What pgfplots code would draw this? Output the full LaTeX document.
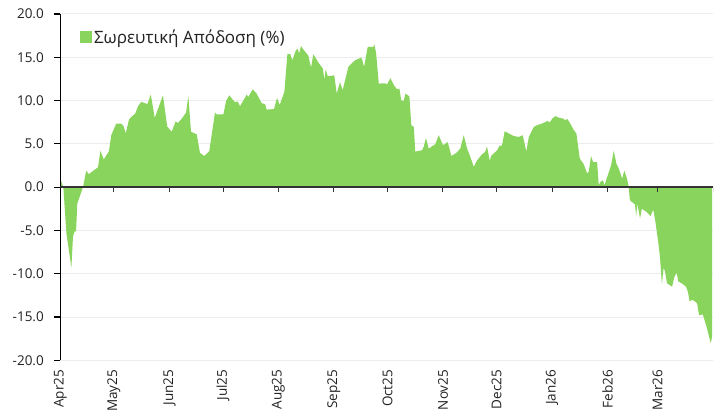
\documentclass[border=0pt]{standalone}
\usepackage{fontspec}
\setmainfont{Open Sans}
\usepackage{pgfplots}
\pgfplotsset{compat=1.18}
\definecolor{areagreen}{RGB}{137,212,92}
\definecolor{gridgray}{RGB}{236,236,236}
\definecolor{axisdark}{RGB}{51,51,51}
\definecolor{txt}{RGB}{34,34,34}
\begin{document}
\begin{tikzpicture}
\begin{axis}[
  name=ax,
  scale only axis, width=652.7bp, height=346.3bp,
  xmin=0, xmax=365, ymin=-20, ymax=20,
  axis y line*=left,
  axis x line*=bottom,
  x axis line style={draw=none},
  y axis line style={black, line width=1.2bp},
  ytick={-20,-15,...,20},
  /pgf/number format/fixed,
  /pgf/number format/fixed zerofill,
  /pgf/number format/precision=1,
  /pgf/number format/assume math mode=true,
  tick align=outside,
  major tick length=6bp,
  y tick style={black, line width=1.2bp},
  x tick style={draw=none},
  yticklabel style={font=\fontsize{13.5bp}{16bp}\selectfont, text=txt, xshift=-7bp},
  xtick={0,30,61,91,122,153,183,214,244,275,306,334},
  xticklabels={Apr25,May25,Jun25,Jul25,Aug25,Sep25,Oct25,Nov25,Dec25,Jan26,Feb26,Mar26},
  xticklabel style={rotate=90, anchor=east, font=\fontsize{13.5bp}{16bp}\selectfont, text=txt},
  ymajorgrids, grid style={gridgray, line width=1bp},
  legend style={at={(rel axis cs:0.030,0.962)}, anchor=north west, draw=none, fill=none,
    font=\fontsize{17bp}{20bp}\selectfont, text=txt, inner sep=0pt},
  legend cell align=left,
  legend image code/.code={\fill[areagreen] (0bp,-6bp) rectangle (12bp,6bp);},
]
\addplot[fill=areagreen, draw=none] coordinates {
(0.5,0.7) (1.7,0.0) (3.4,-5.3) (6.2,-9.3) (7.1,-5.7) (8.2,-5.0) (8.8,-5.2) (9.5,-1.9) (12.7,0)
(14.5,1.9) (15.9,1.5) (21.1,2.3) (22.4,4.2) (24.3,3.2) (27.2,4.15) (28.5,6.0) (31.3,7.35)
(34.1,7.35) (35.5,7.0) (36.6,6.2) (38.4,7.8) (39.7,8.1) (41.9,8.5) (43.5,9.35) (45.3,9.85)
(48.7,9.6) (50.6,10.7) (52.8,8.0) (57.4,10.6) (59.8,7.0) (62.3,6.4) (64.5,7.6) (65.7,7.4)
(67.9,7.9) (70.3,8.6) (71.6,10.5) (73.1,6.4) (76.3,6.1) (78.1,3.96) (80.5,3.6) (83.3,4.15)
(86.5,8.6) (87.5,8.4) (91.2,8.4) (92.7,9.96) (94.5,10.6) (97.7,9.8) (99.2,9.9) (100.5,9.35)
(104.3,10.7) (105.1,10.4) (107.6,11.3) (109.8,10.8) (112.6,9.7) (114.5,9.6) (115.4,8.96)
(118.2,9.0) (119.5,9.0) (121.2,10.3) (122.7,9.5) (125.3,11.0) (127.0,15.4) (128.5,15.4)
(129.8,14.65) (131.7,15.8) (132.8,16.0) (133.5,15.4) (134.6,16.3) (135.9,15.9) (138.7,15.2)
(140.2,13.8) (141.5,15.35) (144.3,14.4) (146.8,13.7) (147.7,12.4) (148.4,13.6) (149.6,12.8)
(152.7,12.9) (153.2,12.9) (154.6,10.8) (156.4,12.15) (157.9,11.2) (161.1,13.9) (162.0,14.1)
(164.8,14.65) (167.6,14.9) (168.2,15.0) (168.9,14.65) (169.9,13.9) (171.9,16.2) (175.1,16.2)
(175.6,16.5) (176.6,15.5) (178.1,11.96) (181.8,12.0) (182.7,11.85) (184.6,12.6) (186.5,11.8)
(188.3,11.3) (189.6,11.4) (190.7,10.0) (192.1,10.0) (193.0,10.8) (195.2,10.5) (196.3,7.15)
(197.7,6.96) (198.5,4.1) (202.3,4.27) (203.2,4.65) (204.5,5.7) (206.0,4.46) (209.7,4.96)
(211.6,6.0) (214.0,4.85) (216.7,5.2) (218.7,3.6) (221.5,3.96) (223.7,4.46) (225.6,6.0)
(227.5,4.46) (229.3,3.5) (231.2,2.35) (233.1,3.1) (235.9,3.8) (237.7,4.1) (238.6,4.7)
(240.2,3.0) (240.9,3.6) (244.3,4.27) (245.7,4.8) (247.0,4.8) (248.5,6.46) (250.8,6.2)
(253.6,5.9) (256.4,5.8) (258.6,6.0) (260.6,4.1) (262.0,5.8) (264.8,6.96) (266.6,7.15)
(269.4,7.35) (272.6,7.65) (273.7,7.46) (275.0,7.9) (276.8,8.2) (279.3,8.0) (281.5,7.9)
(282.4,7.7) (283.4,7.9) (285.2,7.35) (287.1,6.6) (288.6,6.2) (290.5,3.3) (292.7,2.65)
(294.6,1.6) (295.5,1.77) (296.8,3.6) (297.9,2.9) (300.2,2.9) (301.1,0.23) (302.0,0.6)
(303.5,0.8) (304.3,0.2) (305.2,0.8) (308.0,2.5) (309.5,4.2) (311.0,2.7) (312.3,2.15)
(313.2,1.6) (314.2,1.0) (315.4,1.9) (316.9,1.0) (317.9,0) (318.5,-1.5) (320.7,-1.9)
(321.4,-2.0) (322.0,-3.4) (322.7,-1.9) (324.2,-3.6) (325.2,-2.5) (328.1,-2.9) (330.0,-3.35)
(331.6,-2.6) (332.8,-4.0) (334.6,-6.7) (335.4,-8.2) (336.4,-11.2) (337.4,-9.3) (338.2,-9.8)
(339.3,-11.1) (342.1,-11.5) (343.5,-10.3) (344.7,-9.9) (345.6,-10.9) (347.5,-11.1)
(349.9,-11.5) (351.0,-12.1) (351.9,-13.2) (353.5,-13.0) (356.1,-13.4) (357.2,-14.8)
(359.3,-14.7) (361.5,-16.2) (363.7,-18.0) (364.5,-17.3)
} \closedcycle;
\addlegendentry{Σωρευτική Απόδοση (\%)}
\draw[axisdark, line width=2.2bp] (axis cs:0,0) -- (axis cs:365,0);
\pgfplotsinvokeforeach{30,61,91,122,153,183,214,244,275,306,334,365}{
  \draw[axisdark, line width=1bp] (axis cs:#1,0) -- ([yshift=-5bp]axis cs:#1,0);
}
\end{axis}
\pgfresetboundingbox
\path[use as bounding box] ([xshift=-60.3bp,yshift=-58.7bp]ax.south west) rectangle ([xshift=4bp,yshift=14bp]ax.north east);
\end{tikzpicture}
\end{document}
